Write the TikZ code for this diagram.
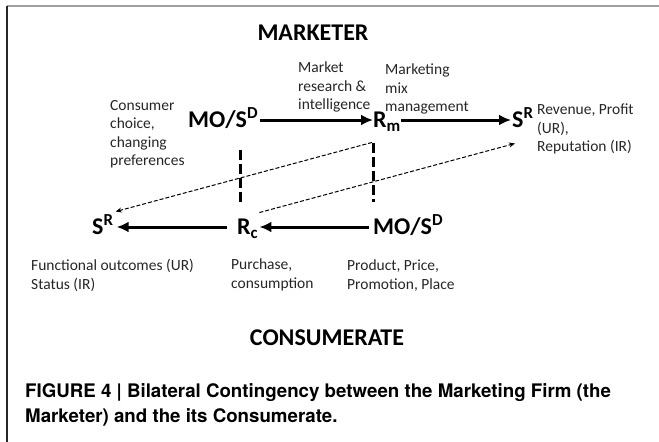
\documentclass[tikz,border=0pt]{standalone}
\usepackage{fontspec}
\setmainfont{Carlito}
\newfontfamily\capfont{TeX Gyre Heros}
\usetikzlibrary{arrows.meta,calc}
\begin{document}
\begin{tikzpicture}[x=1pt,y=-1pt,
  big/.style={font=\fontsize{24}{28}\selectfont\bfseries, inner sep=0pt, text height=17pt, text depth=1.5pt, anchor=west},
  small/.style={font=\fontsize{15.5}{18.5}\selectfont, inner sep=0pt, align=left, anchor=north west, text=black!85},
  head/.style={font=\fontsize{24}{28}\selectfont\bfseries, inner sep=0pt},
  caption/.style={font=\capfont\bfseries\fontsize{18.7}{25}\selectfont, inner sep=0pt, align=left, anchor=north west},
  solidarrow/.style={line width=3pt, -{Latex[length=12pt,width=11pt]}},
  dasharrow/.style={line width=1pt, dash pattern=on 4pt off 2pt, -{Stealth[length=6pt,width=5pt]}},
  vdash/.style={line width=3pt, dash pattern=on 10pt off 4pt},
]
\useasboundingbox (0,0) rectangle (659,442);
% frame
\draw[line width=1.5pt, gray!75] (7,6) -- (659,6);
\draw[line width=1.5pt, black!85] (7,6) -- (7,442);

% headings
\node[head] (marketer) at (313,33) {MARKETER};
\node[head] (consumerate) at (327,338) {CONSUMERATE};

% top row
\node[big] (mos1) at (188,120) {MO/S\textsuperscript{D}};
\node[big] (Rm) at (373,120) {R\textsubscript{m}};
\node[big] (SR1) at (512,120) {S\textsuperscript{R}};

% bottom row
\node[big] (SR2) at (92,227) {S\textsuperscript{R}};
\node[big] (Rc) at (237,227) {R\textsubscript{c}};
\node[big] (mos2) at (373,227) {MO/S\textsuperscript{D}};

% labels
\node[small] (lmr) at (298,62) {Market\\research \&\\intelligence};
\node[small] (lmm) at (385,64) {Marketing\\mix\\management};
\node[small] (lcc) at (110,100) {Consumer\\choice,\\changing\\preferences};
\node[small] (lrev) at (537,104) {Revenue, Profit\\(UR),\\Reputation (IR)};
\node[small] (lfo) at (31,259) {Functional outcomes (UR)\\Status (IR)};
\node[small] (lpc) at (231,259) {Purchase,\\consumption};
\node[small] (lpp) at (347,260) {Product, Price,\\Promotion, Place};

% caption
\node[caption] (cap) at (25,383) {FIGURE 4 | Bilateral Contingency between the Marketing Firm (the\\Marketer) and the its Consumerate.};

% solid arrows
\draw[solidarrow] ($(mos1.east)+(2,0)$) -- (Rm.west);
\draw[solidarrow] (Rm.east) -- ($(SR1.west)+(-1,0)$);
\draw[solidarrow] ($(mos2.west)+(-4,0)$) -- ($(Rc.east)+(1,0)$);
\draw[solidarrow] ($(Rc.west)+(-10,0)$) -- ($(SR2.east)+(3,0)$);

% vertical dashed lines
\coordinate (v1a) at (240,150);
\coordinate (v1b) at (240,203);
\coordinate (v2a) at (373,143);
\coordinate (v2b) at (373,202);
\draw[vdash] (v1a) -- (v1b);
\draw[vdash] (v2a) -- (v2b);

% dashed arrows
\draw[dasharrow] ($(Rm.south west)+(-1,13)$) -- ($(SR2.north east)+(2,-6)$);
\draw[dasharrow] ($(Rc.north east)+(1,-5)$) -- ($(SR1.south west)+(3,14)$);
\end{tikzpicture}
\end{document}
